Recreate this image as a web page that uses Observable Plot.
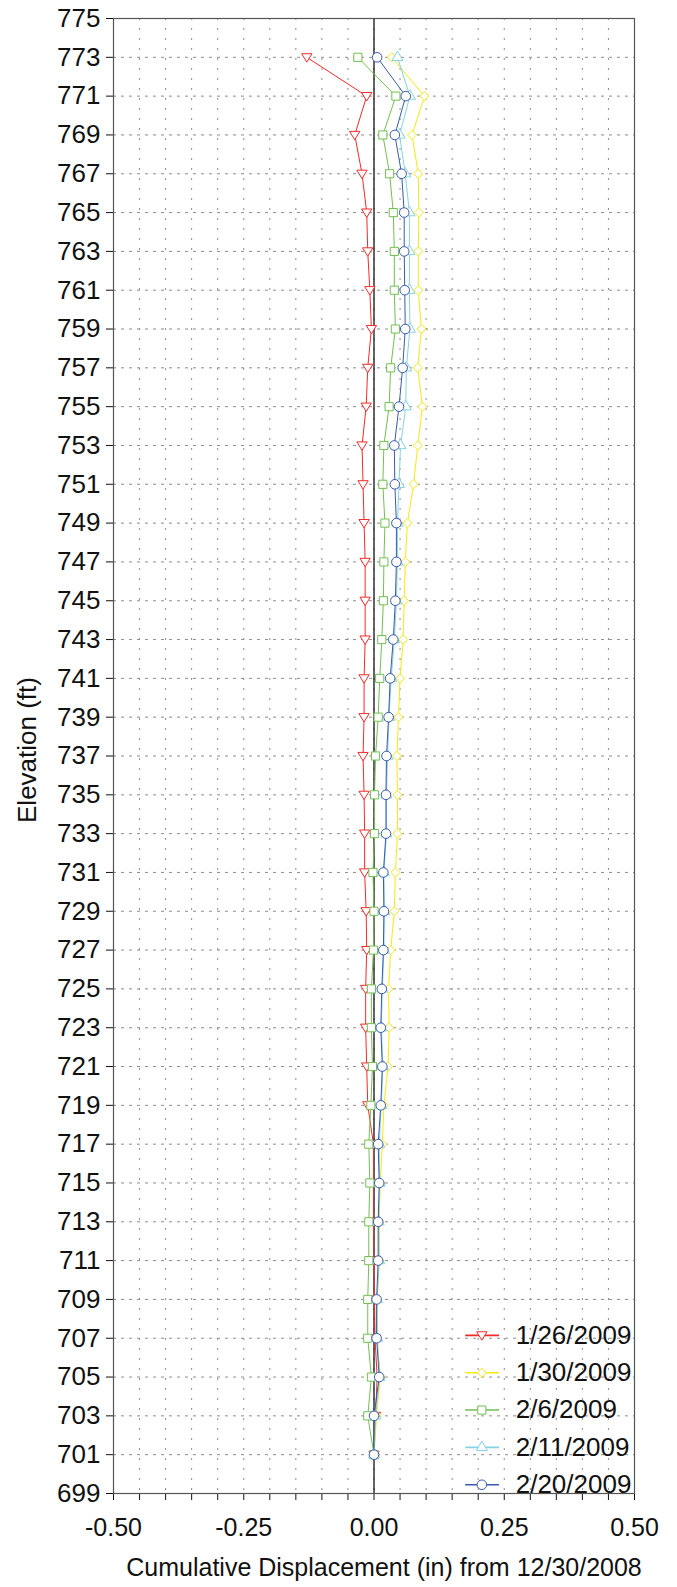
<!DOCTYPE html>
<html>
<head>
<meta charset="utf-8">
<script src="https://cdn.jsdelivr.net/npm/d3@7"></script>
<script src="https://cdn.jsdelivr.net/npm/@observablehq/plot@0.6"></script>
<style>
  html, body { margin: 0; padding: 0; background: #fff; }
  #chart { width: 677px; height: 1587px; }
</style>
</head>
<body>
<div id="chart"></div>
<script>
// ---------- data ----------
const elevations = [773, 771, 769, 767, 765, 763, 761, 759, 757, 755, 753, 751, 749, 747, 745, 743, 741, 739, 737,
  735, 733, 731, 729, 727, 725, 723, 721, 719, 717, 715, 713, 711, 709, 707, 705, 703, 701];

const s0126 = [-0.129, -0.014, -0.037, -0.023, -0.014, -0.012, -0.008, -0.005, -0.012, -0.015, -0.023, -0.021, -0.019,
  -0.017, -0.017, -0.017, -0.019, -0.019, -0.021, -0.019, -0.018, -0.018, -0.015, -0.014, -0.016, -0.016, -0.014,
  -0.012, -0.001, -0.001, -0.001, 0.000, 0.001, 0.002, 0.006, 0.003, 0.000];
const s0130 = [0.034, 0.097, 0.073, 0.085, 0.086, 0.085, 0.085, 0.091, 0.084, 0.093, 0.084, 0.076, 0.064, 0.060, 0.058,
  0.056, 0.050, 0.047, 0.044, 0.045, 0.045, 0.041, 0.039, 0.032, 0.028, 0.029, 0.027, 0.019, 0.016, 0.012, 0.010,
  0.010, 0.006, 0.006, 0.012, 0.005, 0.000];
const s0206 = [-0.031, 0.042, 0.017, 0.030, 0.037, 0.039, 0.039, 0.041, 0.032, 0.029, 0.019, 0.017, 0.021, 0.019, 0.018,
  0.015, 0.011, 0.008, 0.003, 0.001, 0.001, -0.002, 0.000, -0.001, -0.005, -0.005, -0.003, -0.006, -0.010, -0.008,
  -0.010, -0.010, -0.012, -0.012, -0.005, -0.012, 0.000];
const s0211 = [0.045, 0.069, 0.049, 0.060, 0.068, 0.068, 0.068, 0.069, 0.062, 0.061, 0.051, 0.048, 0.045, 0.045, 0.043,
  0.039, 0.033, 0.029, 0.026, 0.024, 0.024, 0.019, 0.020, 0.019, 0.016, 0.014, 0.017, 0.014, 0.010, 0.011, 0.009,
  0.010, 0.006, 0.006, 0.011, 0.003, 0.000];
const s0220 = [0.006, 0.061, 0.040, 0.053, 0.058, 0.058, 0.059, 0.060, 0.055, 0.048, 0.039, 0.040, 0.043, 0.043, 0.041,
  0.037, 0.031, 0.028, 0.024, 0.023, 0.023, 0.018, 0.019, 0.018, 0.015, 0.013, 0.016, 0.013, 0.008, 0.010, 0.008,
  0.008, 0.005, 0.005, 0.010, 0.000, 0.000];

const seriesNames = ["1/26/2009", "1/30/2009", "2/6/2009", "2/11/2009", "2/20/2009"];
const seriesValues = [s0126, s0130, s0206, s0211, s0220];
const seriesColors = ["#f42a2a", "#f7ea10", "#72bf52", "#86d3e3", "#3a5aad"];

const yTickValues = [699, 701, 703, 705, 707, 709, 711, 713, 715, 717, 719, 721, 723, 725, 727, 729, 731, 733, 735, 737,
  739, 741, 743, 745, 747, 749, 751, 753, 755, 757, 759, 761, 763, 765, 767, 769, 771, 773, 775];
const xTickValues = [-0.5, -0.45, -0.4, -0.35, -0.3, -0.25, -0.2, -0.15, -0.1, -0.05, 0, 0.05, 0.1, 0.15, 0.2, 0.25,
  0.3, 0.35, 0.4, 0.45, 0.5];
const xTickLabels = [-0.5, -0.25, 0, 0.25, 0.5];
const xGridValues = xTickValues.filter(v => Math.abs(v) < 0.49);
const yGridValues = yTickValues.filter(v => v > 699 && v < 775);

const xTitle = "Cumulative Displacement (in) from 12/30/2008";
const yTitle = "Elevation (ft)";

// ---------- symbols ----------
const triangleDown = {
  draw(ctx, size) {
    const r = Math.sqrt(size / Math.PI);
    ctx.moveTo(-r * 1.12, -r * 0.78);
    ctx.lineTo(r * 1.12, -r * 0.78);
    ctx.lineTo(0, r * 1.05);
    ctx.closePath();
  }
};
const seriesSymbols = [triangleDown, "diamond2", "square", "triangle", "circle"];
const seriesR = [4.6, 4.1, 4.6, 4.1, 4.8];

// ---------- legend placement (in data space, bottom-right of the frame) ----------
const legendTopElev = 707.15;
const legendStep = 1.925;
const legendRows = seriesNames.map((name, i) => ({
  name, i, y: legendTopElev - i * legendStep, x1: 0.175, x2: 0.240, xm: 0.207, xt: 0.272
}));

const FONT = "'Liberation Sans', Arial, Helvetica, sans-serif";

const marks = [];
// grid
marks.push(Plot.ruleY(yGridValues, {stroke: "#8c8c8c", strokeWidth: 1, strokeDasharray: "3,5"}));
marks.push(Plot.ruleX(xGridValues, {stroke: "#8c8c8c", strokeWidth: 1, strokeDasharray: "2,8"}));
// zero line
marks.push(Plot.ruleX([0], {stroke: "#111", strokeWidth: 1.3}));
// series
seriesValues.forEach((vals, si) => {
  const rows = elevations.map((e, i) => ({elev: e, disp: vals[i]}));
  marks.push(Plot.line(rows, {x: "disp", y: "elev", stroke: seriesColors[si], strokeWidth: 1}));
  marks.push(Plot.dot(rows, {x: "disp", y: "elev", stroke: seriesColors[si], fill: "white", strokeWidth: 1,
    symbol: seriesSymbols[si], r: seriesR[si]}));
});
// legend
legendRows.forEach(row => {
  marks.push(Plot.link([row], {x1: "x1", x2: "x2", y1: "y", y2: "y", stroke: seriesColors[row.i], strokeWidth: 1.6}));
  marks.push(Plot.dot([row], {x: "xm", y: "y", stroke: seriesColors[row.i], fill: "white", strokeWidth: 1,
    symbol: seriesSymbols[row.i], r: seriesR[row.i]}));
  marks.push(Plot.text([row], {x: "xt", y: "y", text: "name", textAnchor: "start", lineAnchor: "middle",
    fontSize: 26, fill: "#111"}));
});
// frame
marks.push(Plot.frame({stroke: "#555", strokeWidth: 1.2}));
// titles
marks.push(Plot.text([xTitle], {frameAnchor: "bottom", dx: 10, dy: 74, lineAnchor: "middle", fontSize: 25, fill: "#111"}));
marks.push(Plot.text([yTitle], {frameAnchor: "left", dx: -86, dy: -6, rotate: -90, lineAnchor: "middle",
  textAnchor: "middle", fontSize: 26, fill: "#111"}));

const chart = Plot.plot({
  width: 677,
  height: 1587,
  marginLeft: 113,
  marginRight: 43,
  marginTop: 18,
  marginBottom: 94,
  style: {fontFamily: FONT, fontSize: "25px", color: "#111", background: "white", overflow: "visible"},
  x: {
    domain: [-0.5, 0.5],
    ticks: xTickValues,
    tickFormat: d => xTickLabels.some(t => Math.abs(t - d) < 1e-9) ? d.toFixed(2) : "",
    tickSize: 7,
    tickPadding: 18,
    label: null
  },
  y: {
    domain: [699, 775],
    ticks: yTickValues,
    tickFormat: d => String(d),
    tickSize: 7,
    tickPadding: 6,
    label: null
  },
  marks
});
// slightly larger y tick labels, as in the reference
chart.querySelectorAll("g[aria-label='y-axis tick label'] text, g[aria-label='y-axis'] text").forEach(t => {
  t.style.fontSize = "26px";
});
document.getElementById("chart").appendChild(chart);
</script>
</body>
</html>
